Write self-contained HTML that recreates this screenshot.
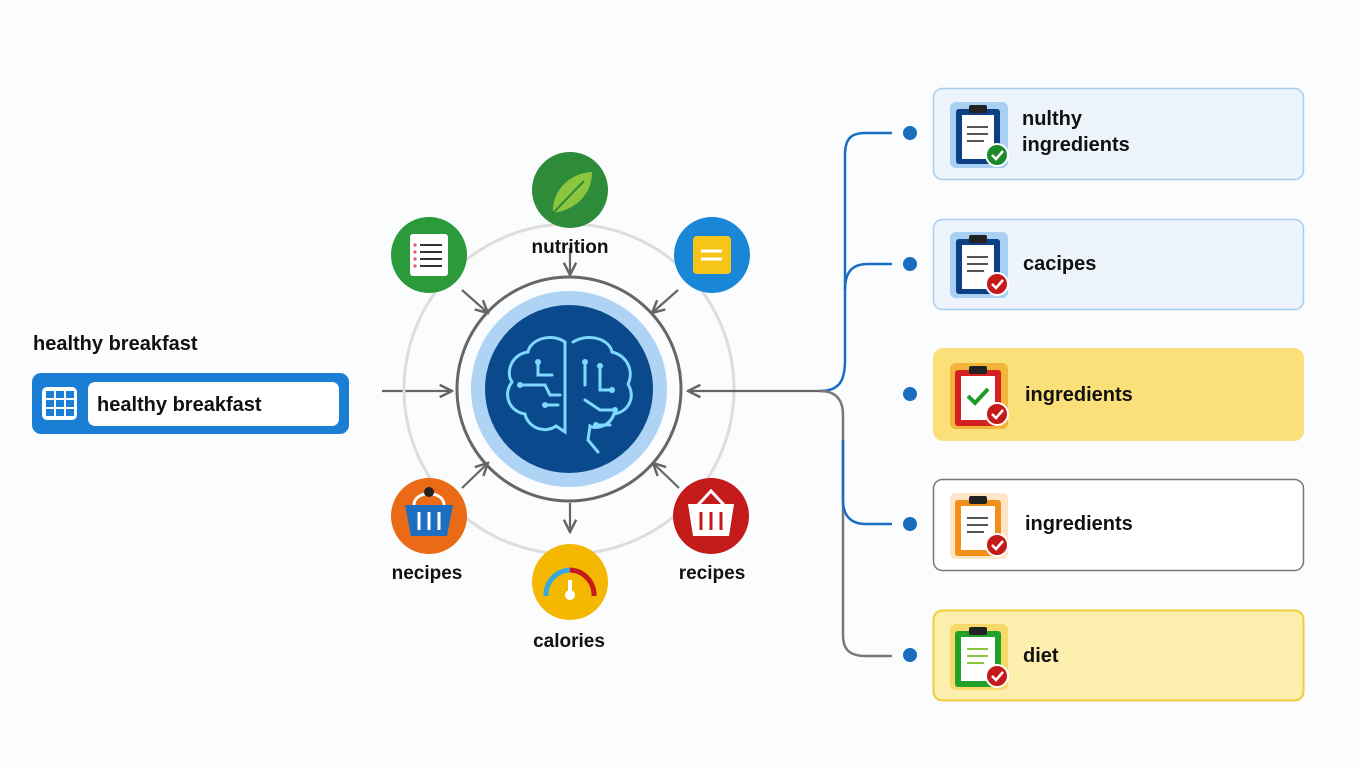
<!DOCTYPE html>
<html><head><meta charset="utf-8"><style>
html,body{margin:0;padding:0;background:#fbfcfd;}
svg{display:block;font-family:"Liberation Sans",Arial,sans-serif;}
</style></head><body>
<svg width="1360" height="768" viewBox="0 0 1360 768" xmlns="http://www.w3.org/2000/svg">
<defs>
<marker id="ah" viewBox="0 0 10 10" refX="9" refY="5" markerWidth="7" markerHeight="7" orient="auto"><path d="M1,1 L9,5 L1,9" fill="none" stroke="#666" stroke-width="1.6"/></marker>
<g id="clip">
<rect x="-26" y="-30" width="52" height="60" rx="5" fill="currentColor"/>
</g>
</defs>
<rect width="1360" height="768" fill="#fbfcfd"/>

<!-- left -->
<text x="33" y="350" font-size="20" font-weight="bold" fill="#111">healthy breakfast</text>
<rect x="32" y="373" width="317" height="61" rx="9" fill="#1a7fd4"/>
<rect x="88" y="382" width="251" height="44" rx="7" fill="#fff"/>
<rect x="42" y="387" width="35" height="33" rx="5" fill="#fff"/>
<g fill="#1a7fd4"><rect x="46" y="391" width="8" height="7"/><rect x="56" y="391" width="8" height="7"/><rect x="66" y="391" width="8" height="7"/><rect x="46" y="400" width="8" height="7"/><rect x="56" y="400" width="8" height="7"/><rect x="66" y="400" width="8" height="7"/><rect x="46" y="409" width="8" height="7"/><rect x="56" y="409" width="8" height="7"/><rect x="66" y="409" width="8" height="7"/></g>
<text x="97" y="411" font-size="20" font-weight="bold" fill="#111">healthy breakfast</text>
<line x1="382" y1="391" x2="452" y2="391" stroke="#666" stroke-width="2.2" marker-end="url(#ah)"/>

<!-- orbit -->
<circle cx="569" cy="389" r="165" fill="none" stroke="#ddd" stroke-width="3"/>
<circle cx="569" cy="389" r="112" fill="#fbfcfd" stroke="#666" stroke-width="3"/>
<circle cx="569" cy="389" r="98" fill="#aed3f5"/>
<circle cx="569" cy="389" r="84" fill="#0a4a8c"/>
<!-- brain -->
<g fill="none" stroke="#7fd8ff" stroke-width="3" stroke-linecap="round">
<path d="M565 342 C550 332 530 340 528 352 C512 354 505 372 512 382 C502 395 510 412 525 414 C528 428 545 434 556 426 L565 432 Z"/>
<path d="M573 342 C590 332 610 340 612 352 C628 356 634 372 628 384 C636 398 628 412 614 414 C610 426 596 430 590 426 L588 440 L598 452"/>
<path d="M520 385 L545 385 L550 395 L560 395 M538 362 L538 375 L552 375 M545 405 L558 405 M585 362 L585 385 M600 366 L600 390 L612 390 M585 400 L600 410 L615 410 M596 425 L610 425"/>
</g>
<g fill="#7fd8ff"><circle cx="520" cy="385" r="3"/><circle cx="538" cy="362" r="3"/><circle cx="545" cy="405" r="3"/><circle cx="585" cy="362" r="3"/><circle cx="600" cy="366" r="3"/><circle cx="612" cy="390" r="3"/><circle cx="615" cy="410" r="3"/><circle cx="596" cy="425" r="3"/></g>

<!-- arrows into center -->
<g stroke="#666" stroke-width="2.2" marker-end="url(#ah)">
<line x1="570" y1="248" x2="570" y2="275"/>
<line x1="462" y1="290" x2="488" y2="313"/>
<line x1="678" y1="290" x2="652" y2="313"/>
<line x1="462" y1="488" x2="488" y2="463"/>
<line x1="679" y1="488" x2="653" y2="463"/>
<line x1="570" y1="503" x2="570" y2="532"/>
<line x1="830" y1="391" x2="688" y2="391"/>
</g>

<!-- satellites -->
<circle cx="570" cy="190" r="38" fill="#2e8b3a"/>
<path d="M553 213 C552 190 570 173 592 172 C592 195 575 210 553 213 Z" fill="#8cc63f"/>
<path d="M553 213 L584 181" stroke="#2e8b3a" stroke-width="2"/>
<text x="570" y="253" font-size="19" font-weight="bold" text-anchor="middle" fill="#111">nutrition</text>

<circle cx="429" cy="255" r="38" fill="#2a9a3a"/>
<rect x="410" y="234" width="38" height="42" rx="3" fill="#fff"/>
<g stroke="#333" stroke-width="2"><line x1="420" y1="245" x2="442" y2="245"/><line x1="420" y1="252" x2="442" y2="252"/><line x1="420" y1="259" x2="442" y2="259"/><line x1="420" y1="266" x2="442" y2="266"/></g>
<g fill="#e55"><circle cx="415" cy="245" r="1.6"/><circle cx="415" cy="252" r="1.6"/><circle cx="415" cy="259" r="1.6"/><circle cx="415" cy="266" r="1.6"/></g>

<circle cx="712" cy="255" r="38" fill="#1a86d6"/>
<rect x="693" y="236" width="38" height="38" rx="4" fill="#f5c518"/>
<g stroke="#fff" stroke-width="3"><line x1="701" y1="251" x2="722" y2="251"/><line x1="701" y1="259" x2="722" y2="259"/></g>

<circle cx="429" cy="516" r="38" fill="#ea6a15"/>
<path d="M414 505 C414 490 444 490 444 505" fill="none" stroke="#fff" stroke-width="3"/>
<circle cx="429" cy="492" r="5" fill="#222"/>
<path d="M405 505 L453 505 L447 536 L411 536 Z" fill="#1e6fc0"/>
<g stroke="#fff" stroke-width="3"><line x1="419" y1="512" x2="419" y2="530"/><line x1="429" y1="512" x2="429" y2="530"/><line x1="439" y1="512" x2="439" y2="530"/></g>
<text x="427" y="579" font-size="19" font-weight="bold" text-anchor="middle" fill="#111">necipes</text>

<circle cx="711" cy="516" r="38" fill="#c41a1a"/>
<path d="M698 505 L711 491 L724 505" fill="none" stroke="#fff" stroke-width="3"/>
<path d="M688 504 L734 504 L729 536 L693 536 Z" fill="#fff"/>
<g stroke="#c41a1a" stroke-width="3"><line x1="701" y1="512" x2="701" y2="530"/><line x1="711" y1="512" x2="711" y2="530"/><line x1="721" y1="512" x2="721" y2="530"/></g>
<text x="712" y="579" font-size="19" font-weight="bold" text-anchor="middle" fill="#111">recipes</text>

<circle cx="570" cy="582" r="38" fill="#f5b800"/>
<path d="M546 596 A25 25 0 0 1 570 570" fill="none" stroke="#36a8e0" stroke-width="5"/>
<path d="M570 570 A25 25 0 0 1 594 596" fill="none" stroke="#c41a1a" stroke-width="5"/>
<circle cx="570" cy="595" r="5" fill="#fff"/><rect x="568" y="580" width="4" height="14" fill="#fff"/>
<text x="569" y="647" font-size="19" font-weight="bold" text-anchor="middle" fill="#111">calories</text>

<!-- right connectors -->
<path d="M820 391 C840 391 845 380 845 360 L845 155 C845 140 850 133 865 133 L892 133" fill="none" stroke="#1a6ec0" stroke-width="2.5"/>
<path d="M845 290 C845 272 852 264 868 264 L892 264" fill="none" stroke="#1a6ec0" stroke-width="2.5"/>
<path d="M820 391 C836 391 843 400 843 415 L843 635 C843 650 850 656 866 656 L892 656" fill="none" stroke="#777" stroke-width="2.5"/>
<path d="M843 440 L843 500 C843 515 850 524 866 524 L892 524" fill="none" stroke="#1a6ec0" stroke-width="2.5"/>
<g fill="#1a6ec0"><circle cx="910" cy="133" r="7"/><circle cx="910" cy="264" r="7"/><circle cx="910" cy="394" r="7"/><circle cx="910" cy="524" r="7"/><circle cx="910" cy="655" r="7"/></g>

<!-- right boxes -->
<rect x="933.5" y="88.5" width="370" height="91" rx="9" fill="#edf4fc" stroke="#a9cdec" stroke-width="1.5"/>
<rect x="933.5" y="219.5" width="370" height="90" rx="9" fill="#edf4fc" stroke="#a9cdec" stroke-width="1.5"/>
<rect x="933" y="348" width="371" height="93" rx="10" fill="#fbe07a"/>
<rect x="933.5" y="479.5" width="370" height="91" rx="9" fill="#fff" stroke="#777" stroke-width="1.5"/>
<rect x="933.5" y="610.5" width="370" height="90" rx="9" fill="#fcefad" stroke="#f0cd3a" stroke-width="2"/>

<!-- clipboard icons -->
<g>
<rect x="950" y="102" width="58" height="66" rx="6" fill="#a8d0f3"/>
<rect x="956" y="109" width="44" height="55" rx="3" fill="#0d3f84"/><rect x="962" y="115" width="32" height="44" fill="#fff"/>
<rect x="969" y="105" width="18" height="8" rx="2" fill="#222"/>
<g stroke="#555" stroke-width="2"><line x1="967" y1="127" x2="988" y2="127"/><line x1="967" y1="134" x2="988" y2="134"/><line x1="967" y1="141" x2="984" y2="141"/></g>
<circle cx="997" cy="155" r="11" fill="#1f8a2a" stroke="#fff" stroke-width="2"/><path d="M992 155 L996 159 L1003 151" fill="none" stroke="#fff" stroke-width="2.5"/>
</g>
<g>
<rect x="950" y="232" width="58" height="66" rx="6" fill="#a8d0f3"/>
<rect x="956" y="239" width="44" height="55" rx="3" fill="#0d3f84"/><rect x="962" y="245" width="32" height="44" fill="#fff"/>
<rect x="969" y="235" width="18" height="8" rx="2" fill="#222"/>
<g stroke="#555" stroke-width="2"><line x1="967" y1="257" x2="988" y2="257"/><line x1="967" y1="264" x2="988" y2="264"/><line x1="967" y1="271" x2="984" y2="271"/></g>
<circle cx="997" cy="284" r="11" fill="#c41a1a" stroke="#fff" stroke-width="2"/><path d="M992 284 L996 288 L1003 280" fill="none" stroke="#fff" stroke-width="2.5"/>
</g>
<g>
<rect x="950" y="363" width="58" height="66" rx="6" fill="#f3b43a"/>
<rect x="955" y="370" width="46" height="56" rx="3" fill="#d42020"/><rect x="961" y="376" width="34" height="44" fill="#fff"/>
<rect x="969" y="366" width="18" height="8" rx="2" fill="#222"/>
<path d="M968 396 L975 403 L988 389" fill="none" stroke="#1f9a2a" stroke-width="4"/>
<circle cx="997" cy="414" r="11" fill="#c41a1a" stroke="#fff" stroke-width="2"/><path d="M992 414 L996 418 L1003 410" fill="none" stroke="#fff" stroke-width="2.5"/>
</g>
<g>
<rect x="950" y="493" width="58" height="66" rx="6" fill="#fde6c8"/>
<rect x="955" y="500" width="46" height="56" rx="3" fill="#f0901a"/><rect x="961" y="506" width="34" height="44" fill="#fff"/>
<rect x="969" y="496" width="18" height="8" rx="2" fill="#222"/>
<g stroke="#555" stroke-width="2"><line x1="967" y1="518" x2="988" y2="518"/><line x1="967" y1="525" x2="988" y2="525"/><line x1="967" y1="532" x2="984" y2="532"/></g>
<circle cx="997" cy="545" r="11" fill="#c41a1a" stroke="#fff" stroke-width="2"/><path d="M992 545 L996 549 L1003 541" fill="none" stroke="#fff" stroke-width="2.5"/>
</g>
<g>
<rect x="950" y="624" width="58" height="66" rx="6" fill="#f7d96a"/>
<rect x="955" y="631" width="46" height="56" rx="3" fill="#22a02a"/><rect x="961" y="637" width="34" height="44" fill="#fff"/>
<rect x="969" y="627" width="18" height="8" rx="2" fill="#222"/>
<g stroke="#8cc63f" stroke-width="2"><line x1="967" y1="649" x2="988" y2="649"/><line x1="967" y1="656" x2="988" y2="656"/><line x1="967" y1="663" x2="984" y2="663"/></g>
<circle cx="997" cy="676" r="11" fill="#c41a1a" stroke="#fff" stroke-width="2"/><path d="M992 676 L996 680 L1003 672" fill="none" stroke="#fff" stroke-width="2.5"/>
</g>

<g font-size="20" font-weight="bold" fill="#111">
<text x="1022" y="125">nulthy</text>
<text x="1022" y="151">ingredients</text>
<text x="1023" y="270">cacipes</text>
<text x="1025" y="401">ingredients</text>
<text x="1025" y="530">ingredients</text>
<text x="1023" y="662">diet</text>
</g>
</svg>
</body></html>
